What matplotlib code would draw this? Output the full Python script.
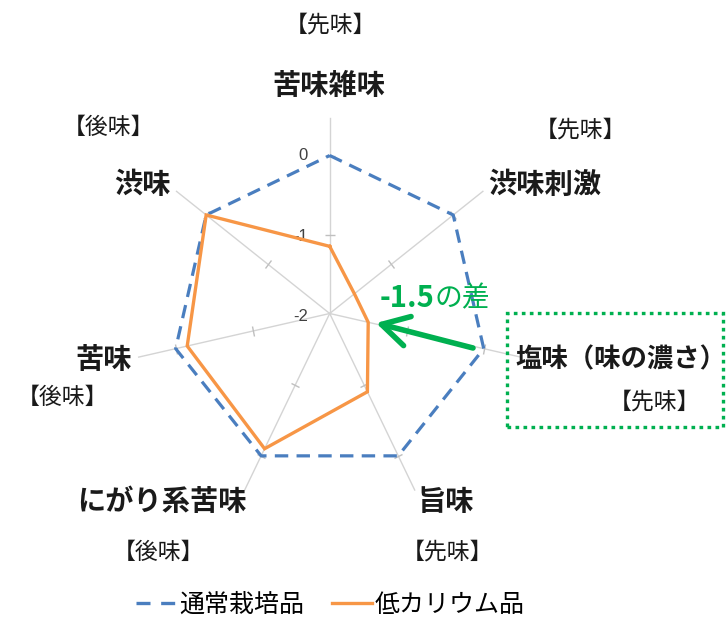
import numpy as np
import matplotlib
matplotlib.use("Agg")
import matplotlib.pyplot as plt
from matplotlib.lines import Line2D
from matplotlib.patches import Rectangle
from matplotlib.markers import MarkerStyle
from matplotlib.transforms import Affine2D

plt.rcParams['font.family'] = ['Noto Sans CJK JP', 'DejaVu Sans']

# ---- data ----
categories = ['苦味雑味', '渋味刺激', '塩味（味の濃さ）', '旨味', 'にがり系苦味', '苦味', '渋味']
timing = ['【先味】', '【先味】', '【先味】', '【先味】', '【後味】', '【後味】', '【後味】']
normal_vals = [0, 0, 0, 0, 0, 0, 0]          # 通常栽培品
lowk_vals = [-1.15, -1.6, -1.5, -0.9, -0.1, -0.15, 0.0]  # 低カリウム品
series_names = ['通常栽培品', '低カリウム品']
r_ticks = [0, -1, -2]
r_tick_labels = ['0', '-1', '-2']
diff_label_num = '-1.5'
diff_label_txt = 'の差'

W, H = 727, 621
fig = plt.figure(figsize=(W / 100, H / 100), dpi=100)
fig.patch.set_facecolor('white')

cx, cy, R = 329.7, 313.5, 158
ax = fig.add_axes([(cx - R) / W, 1 - (cy + R) / H, 2 * R / W, 2 * R / H], projection='polar')
ax.set_theta_zero_location('N')
ax.set_theta_direction(-1)
ax.set_ylim(-2, 0)
ax.grid(False)
ax.spines['polar'].set_visible(False)
ax.set_xticks([])
ax.set_yticks([])
ax.patch.set_visible(False)

n = len(categories)
theta = np.linspace(0, 2 * np.pi, n, endpoint=False)

# spokes
for t in theta:
    ax.plot([t, t], [-2, 0.48], color='#D4D4D4', lw=1.0, clip_on=False, zorder=1)
    m = MarkerStyle('_', transform=Affine2D().rotate_deg(-np.degrees(t)))
    ax.plot([t, t], [-1, 0], linestyle='none', marker=m, markersize=7,
            markeredgecolor='#BFBFBF', markeredgewidth=1.0, zorder=1, clip_on=False)

# tick labels on the top axis
tick_dy = {0: 0, -1: -2, -2: -3}
for rv, lab in zip(r_ticks, r_tick_labels):
    ax.annotate(lab, xy=(0, rv), xytext=(-22, tick_dy[rv]), textcoords='offset pixels',
                ha='right', va='center', fontsize=12, color='#404040',
                family=['Liberation Sans', 'DejaVu Sans'], annotation_clip=False)

tt = np.concatenate([theta, theta[:1]])
nv = np.array(normal_vals + normal_vals[:1], dtype=float)
lv = np.array(lowk_vals + lowk_vals[:1], dtype=float)

blue = '#4A7EBF'
orange = '#F79646'
green = '#00B050'

ax.plot(tt, nv, color=blue, lw=2.3, dashes=(4.2, 2.6), clip_on=False, zorder=3,
        dash_capstyle='butt')
ax.plot(tt, lv, color=orange, lw=2.4, clip_on=False, zorder=4, solid_joinstyle='miter')


def ftext(x, y, s, **kw):
    return fig.text(x / W, 1 - y / H, s, ha='center', va='center', **kw)


label_pos = [(329, 86), (544.5, 185), (621, 360), (445.5, 502), (161.7, 502), (104, 360), (142.5, 185)]
timing_pos = [(330, 25), (580, 130), (655, 402), (447.5, 552), (159, 552), (63, 397), (109, 127)]
for lab, (x, y) in zip(categories, label_pos):
    fs = 19 if '（' in lab else 20.3
    ftext(x, y, lab, fontsize=fs, fontweight='bold', color='#1a1a1a')
for lab, (x, y) in zip(timing, timing_pos):
    ftext(x, y, lab, fontsize=16.5, color='#1a1a1a')

# green dotted box
box = Rectangle((507 / W, 1 - 427 / H), (723 - 507) / W, (427 - 313) / H, transform=fig.transFigure,
                fill=False, edgecolor=green, lw=2.4, linestyle=(0, (1.1, 1.3)), clip_on=False)
fig.patches.append(box)

# arrow & difference label
ax.annotate('', xy=(376 / W, 1 - 323 / H), xycoords='figure fraction',
            xytext=(473 / W, 1 - 348 / H), textcoords='figure fraction',
            arrowprops=dict(arrowstyle='->,head_length=0.8,head_width=0.45', color=green,
                            lw=4.0, mutation_scale=24, shrinkA=0, shrinkB=0),
            annotation_clip=False)
t1 = fig.text(380 / W, 1 - 298 / H, diff_label_num, ha='left', va='center', fontsize=21,
              fontweight='bold', color=green)
fig.canvas.draw()
bb = t1.get_window_extent()
fig.text(bb.x1 / W, 1 - 298 / H, diff_label_txt, ha='left', va='center', fontsize=20, color=green)

# legend
handles = [Line2D([], [], color=blue, lw=2.4, dashes=(4.2, 3.2)),
           Line2D([], [], color=orange, lw=2.4)]
fig.legend(handles, series_names, loc='center', bbox_to_anchor=(330.5 / W, 1 - 605 / H),
           ncol=2, frameon=False, prop={'size': 18, 'family': ['Noto Sans CJK JP']},
           handlelength=1.6, handletextpad=0.12, columnspacing=1.1, borderpad=0, borderaxespad=0)

fig.savefig('out.png', dpi=100, facecolor='white')
